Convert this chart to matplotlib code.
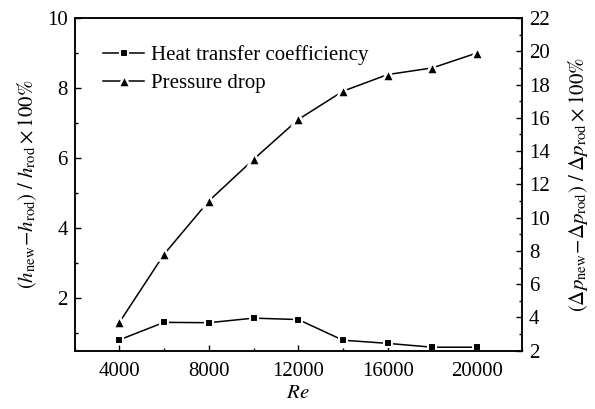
import matplotlib
matplotlib.use("Agg")
import matplotlib.pyplot as plt
from matplotlib.ticker import MultipleLocator

plt.rcParams['font.family'] = ['Liberation Serif', 'DejaVu Serif']
plt.rcParams['mathtext.fontset'] = 'stix'
plt.rcParams['font.size'] = 15

# data
re_vals = [4000, 6000, 8000, 10000, 12000, 14000, 16000, 18000, 20000]
heat = [0.81, 1.31, 1.30, 1.43, 1.39, 0.80, 0.71, 0.60, 0.60]
pressure = [3.7, 7.8, 11.0, 13.5, 15.9, 17.6, 18.6, 19.0, 19.9]

fig = plt.figure(figsize=(5.95, 4.09), dpi=100)
ax = fig.add_axes([0.1255, 0.1425, 0.7515, 0.8135])
ax2 = ax.twinx()

l1, = ax.plot(re_vals, heat, color='black', lw=1.1, marker='s', ms=5.5,
              mfc='black', mec='white', mew=1.5, label='Heat transfer coefficiency')
l2, = ax2.plot(re_vals, pressure, color='black', lw=1.1, marker='^', ms=9,
               mfc='black', mec='white', mew=1.8, label='Pressure drop')

ax.set_xlim(2000, 22000)
ax.set_ylim(0.5, 10)
ax2.set_ylim(2, 22)

ax.xaxis.set_major_locator(MultipleLocator(4000))
ax.xaxis.set_minor_locator(MultipleLocator(2000))
ax.yaxis.set_major_locator(MultipleLocator(2))
ax.yaxis.set_minor_locator(MultipleLocator(1))
ax2.yaxis.set_major_locator(MultipleLocator(2))
ax2.yaxis.set_minor_locator(MultipleLocator(1))

for a in (ax, ax2):
    a.tick_params(which='major', direction='in', length=4, width=1, pad=5)
    a.tick_params(which='minor', direction='in', length=2.5, width=1)
    for s in a.spines.values():
        s.set_linewidth(1.1)
ax.tick_params(top=False, right=False, which='both')
ax.tick_params(axis='x', pad=8)

ax.set_xlabel('$Re$', labelpad=2)
ax.set_ylabel(r'$(h_{\rm new}\!-\!h_{\rm rod})\ /\ h_{\rm rod}\times100\%$', labelpad=6)
ax2.set_ylabel(r'$(\Delta p_{\rm new}\!-\!\Delta p_{\rm rod})\ /\ \Delta p_{\rm rod}\times100\%$',
               labelpad=12)

ax.legend(handles=[l1, l2], loc='upper left', bbox_to_anchor=(0.035, 0.955),
          frameon=False, handlelength=2.0, handletextpad=0.3, labelspacing=0.4,
          borderaxespad=0.2, fontsize=15)

fig.savefig('out.png', dpi=100)
